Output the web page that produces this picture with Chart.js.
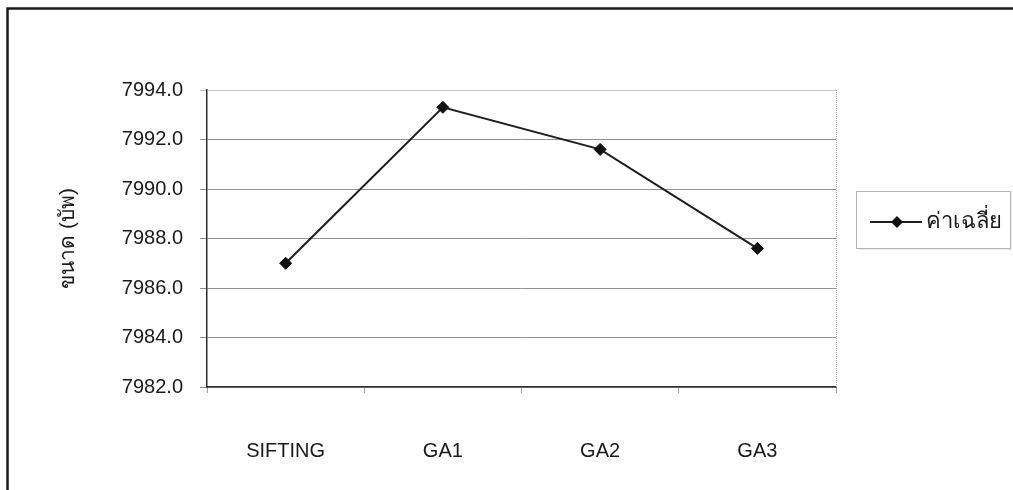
<!DOCTYPE html>
<html>
<head>
<meta charset="utf-8">
<script src="https://cdn.jsdelivr.net/npm/chart.js@4.4.1/dist/chart.umd.min.js"></script>
<style>
  html, body { margin: 0; padding: 0; background: #ffffff; }
  #wrap { width: 1013px; height: 490px; position: relative; }
</style>
</head>
<body>
<div id="wrap"><canvas id="c" width="1013" height="490"></canvas></div>
<script>
// Categories and the average size for each method
const categories = ['SIFTING', 'GA1', 'GA2', 'GA3'];
const averageSize = [7987.0, 7993.3, 7991.6, 7987.6];
const seriesLabel = 'ค่าเฉลี่ย';
const yAxisTitle = 'ขนาด (บัพ)';
const yMin = 7982, yMax = 7994, yStep = 2;

const FONT = '"Liberation Sans", Arial, sans-serif';

// Frame around the figure, dotted right edge of the plot, and the legend box
const decorations = {
  id: 'decorations',
  beforeDraw(chart) {
    const ctx = chart.ctx;
    ctx.save();
    ctx.fillStyle = '#ffffff';
    ctx.fillRect(0, 0, chart.width, chart.height);
    ctx.strokeStyle = '#1a1a1a';
    ctx.lineWidth = 2.5;
    ctx.beginPath();
    ctx.moveTo(7.5, chart.height);
    ctx.lineTo(7.5, 8.5);
    ctx.lineTo(chart.width, 8.5);
    ctx.stroke();
    ctx.restore();
  },
  afterDraw(chart) {
    const ctx = chart.ctx;
    const a = chart.chartArea;
    ctx.save();
    // dotted right border of the plot area
    ctx.strokeStyle = '#a0a0a0';
    ctx.lineWidth = 1;
    ctx.setLineDash([1, 1]);
    ctx.beginPath();
    ctx.moveTo(a.right + 0.5, a.top);
    ctx.lineTo(a.right + 0.5, a.bottom);
    ctx.stroke();
    ctx.setLineDash([]);

    // legend box
    const bx = 856, by = 191, bw = 154, bh = 57;
    ctx.fillStyle = '#ececec';
    ctx.fillRect(bx + 2, by + bh, bw, 2);
    ctx.fillRect(bx + bw, by + 2, 2, bh);
    ctx.fillStyle = '#ffffff';
    ctx.fillRect(bx, by, bw, bh);
    ctx.strokeStyle = '#b4b4b4';
    ctx.lineWidth = 1;
    ctx.strokeRect(bx + 0.5, by + 0.5, bw, bh);

    const ds = chart.data.datasets[0];
    const ly = by + 31;
    ctx.strokeStyle = ds.borderColor;
    ctx.lineWidth = 2;
    ctx.beginPath();
    ctx.moveTo(870, ly);
    ctx.lineTo(922, ly);
    ctx.stroke();
    ctx.fillStyle = ds.pointBackgroundColor;
    ctx.beginPath();
    ctx.moveTo(897, ly - 6);
    ctx.lineTo(903, ly);
    ctx.lineTo(897, ly + 6);
    ctx.lineTo(891, ly);
    ctx.closePath();
    ctx.fill();

    ctx.fillStyle = '#1a1a1a';
    ctx.font = '22px ' + FONT;
    ctx.textAlign = 'left';
    ctx.textBaseline = 'middle';
    ctx.fillText(ds.label, 926, ly);
    ctx.restore();
  }
};

new Chart(document.getElementById('c'), {
  type: 'line',
  data: {
    labels: categories,
    datasets: [{
      label: seriesLabel,
      data: averageSize,
      borderColor: '#1e1e1e',
      borderWidth: 2,
      pointStyle: 'rectRot',
      pointRadius: 6,
      pointHoverRadius: 6,
      pointBackgroundColor: '#111111',
      pointBorderColor: '#111111',
      pointBorderWidth: 1,
      tension: 0,
      fill: false
    }]
  },
  options: {
    responsive: false,
    animation: false,
    events: [],
    layout: { padding: { left: 0, right: 177, top: 90, bottom: 0 } },
    plugins: {
      legend: { display: false },
      title: { display: false },
      tooltip: { enabled: false }
    },
    scales: {
      x: {
        type: 'category',
        offset: true,
        afterFit(scale) { scale.height = 103; },
        grid: {
          offset: true,
          drawOnChartArea: false,
          drawTicks: true,
          tickLength: 6,
          color: '#a0a0a0',
          lineWidth: 1
        },
        border: { display: true, color: '#2e2e2e', width: 1.5 },
        ticks: {
          padding: 46,
          color: '#1a1a1a',
          font: { family: FONT, size: 20 },
          maxRotation: 0
        }
      },
      y: {
        min: yMin,
        max: yMax,
        afterFit(scale) { scale.width = 207; },
        ticks: {
          stepSize: yStep,
          padding: 17,
          color: '#1a1a1a',
          font: { family: FONT, size: 20 },
          callback: v => Number(v).toFixed(1)
        },
        grid: {
          color: ctx => (ctx.tick && ctx.tick.value === yMax) ? '#c4c4c4' : '#939393',
          lineWidth: 1,
          tickLength: 7,
          drawTicks: true
        },
        border: { display: true, color: '#2e2e2e', width: 1.5 },
        title: {
          display: true,
          text: yAxisTitle,
          color: '#1a1a1a',
          font: { family: FONT, size: 21 },
          padding: { top: 56, bottom: 0 }
        }
      }
    }
  },
  plugins: [decorations]
});
</script>
</body>
</html>
